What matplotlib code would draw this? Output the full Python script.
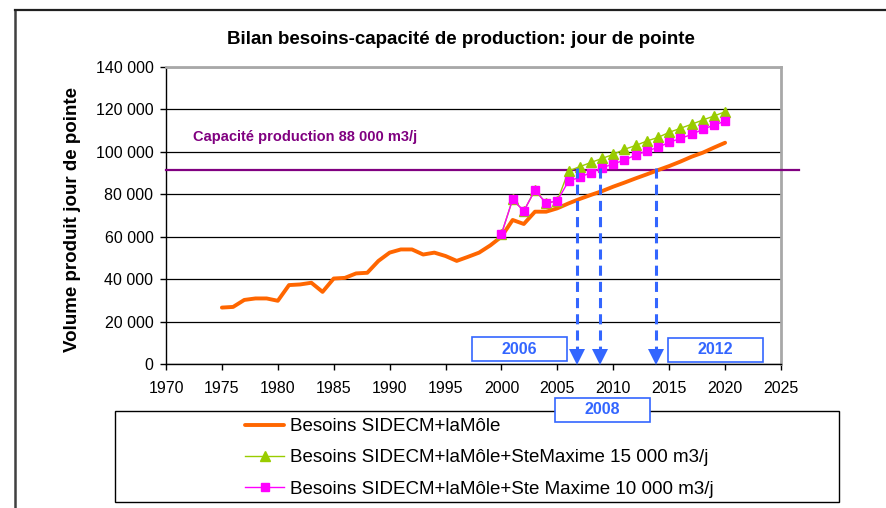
import numpy as np
import matplotlib
matplotlib.use("Agg")
import matplotlib.pyplot as plt
from matplotlib.lines import Line2D
from matplotlib.patches import Rectangle

plt.rcParams['font.family'] = ['Liberation Sans', 'DejaVu Sans']

# --- data ---
years_base = list(range(1975, 2021))
besoins_base = [26600, 26900, 30200, 30900, 30900, 29800, 37200, 37500, 38300, 34000,
                40300, 40600, 42700, 43000, 48600, 52500, 54000, 54000, 51600, 52500,
                50900, 48600, 50500, 52500, 55900, 60000, 67900, 66000, 71800, 71800,
                73400, 75700, 77800, 79700, 81500, 83600, 85500, 87500, 89400, 91400,
                93300, 95400, 97700, 99600, 102000, 104300]

years_ste = list(range(2000, 2021))
besoins_15000 = [61300, 77600, 72100, 82000, 75700, 77000, 91000, 93000, 95000, 96900,
                 98800, 101200, 103000, 105100, 106800, 109200, 111100, 113000, 115000,
                 116900, 118900]
besoins_10000 = [61300, 77600, 72100, 82000, 75700, 77000, 86200, 88000, 90200, 92500,
                 94300, 96100, 98500, 100400, 102100, 104500, 106300, 108200, 110600,
                 112600, 114500]

capacity_level = 91400
arrow_years = [2006.8, 2008.85, 2013.85]
box_labels = ["2006", "2008", "2012"]

labels = ["Besoins SIDECM+laMôle",
          "Besoins SIDECM+laMôle+SteMaxime 15 000 m3/j",
          "Besoins SIDECM+laMôle+Ste Maxime 10 000 m3/j"]

W, H = 886, 508


def fx(x):
    return x / W


def fy(y):
    return 1 - y / H


fig = plt.figure(figsize=(W / 100, H / 100), dpi=100)
ax = fig.add_axes([fx(166), fy(364), (781 - 166) / W, (364 - 67) / H])

blue = '#3366ff'

ax.set_xlim(1970, 2025)
ax.set_ylim(0, 140000)
ax.set_xticks(range(1970, 2026, 5))
ax.set_yticks(range(0, 140001, 20000))
ax.set_yticklabels([f"{v:,}".replace(",", " ") for v in range(0, 140001, 20000)])
ax.tick_params(axis='both', direction='out', length=4, labelsize=11.5, width=1)
ax.tick_params(axis='x', pad=8)
ax.tick_params(axis='y', pad=5)
ax.yaxis.grid(True, color='black', linewidth=0.9)
ax.set_axisbelow(True)
for s in ['top', 'right']:
    ax.spines[s].set_color('#a8a8a8')
    ax.spines[s].set_linewidth(2)
for s in ['left', 'bottom']:
    ax.spines[s].set_color('black')
    ax.spines[s].set_linewidth(1)

# capacity line, running past the plot area
ax.plot([1970, 2026.6], [capacity_level, capacity_level], color='#800080', lw=1.6,
        clip_on=False, zorder=3)

l1, = ax.plot(years_base, besoins_base, color='#ff6600', lw=2.8, zorder=4,
              solid_capstyle='round', solid_joinstyle='round')
l2, = ax.plot(years_ste, besoins_15000, color='#99cc00', lw=1, marker='^',
              markersize=6.5, zorder=5)
l3, = ax.plot(years_ste, besoins_10000, color='#ff00ff', lw=1, marker='s',
              markersize=5.5, zorder=6)

# dashed blue arrows down to the year axis
per_px = 140000 / 297
for xa in arrow_years:
    ax.plot([xa, xa], [capacity_level + 2 * per_px, 12 * per_px], color=blue, lw=2.2,
            dashes=(3.3, 2), zorder=7)
    ax.plot([xa], [7 * per_px], marker='v', markersize=12, color=blue,
            markeredgewidth=0, zorder=8, clip_on=False)

fig.text(fx(193), fy(137), "Capacité production 88 000 m3/j",
         color='#800080', fontsize=10.5, fontweight='bold', va='center', ha='left')

fig.text(fx(461), fy(40), "Bilan besoins-capacité de production: jour de pointe",
         fontsize=13.5, fontweight='bold', ha='center', va='center')
fig.text(fx(73), fy(219), "Volume produit jour de pointe", rotation=90,
         fontsize=13.5, fontweight='bold', ha='center', va='center')

# outer chart border (left and top)
fig.add_artist(Line2D([fx(15), fx(15)], [fy(10), 0], color='#404040', lw=1.8))
fig.add_artist(Line2D([fx(15), 1], [fy(10), fy(10)], color='#202020', lw=1.6))

# legend frame and entries
fig.add_artist(Rectangle((fx(115), fy(502)), (839 - 115) / W, (502 - 411) / H,
                         transform=fig.transFigure, fill=False, edgecolor='black', lw=1))
fig.legend([l1, l2, l3], labels, loc='upper left', bbox_to_anchor=(fx(245), fy(418)),
           frameon=False, fontsize=13.5, handlelength=2.1, handletextpad=0.3,
           borderpad=0, borderaxespad=0, labelspacing=0.76)

# year boxes
boxes = [(472, 337, 567, 361), (555, 398, 650, 422), (668, 338, 763, 362)]
for (x0, y0, x1, y1), lab in zip(boxes, box_labels):
    fig.add_artist(Rectangle((fx(x0), fy(y1)), (x1 - x0) / W, (y1 - y0) / H,
                             transform=fig.transFigure, facecolor='white',
                             edgecolor=blue, lw=1.2, zorder=10))
    fig.text(fx((x0 + x1) / 2), fy((y0 + y1) / 2), lab, color=blue, fontsize=11.5,
             fontweight='bold', ha='center', va='center', zorder=11)

fig.savefig("out.png", dpi=100)
